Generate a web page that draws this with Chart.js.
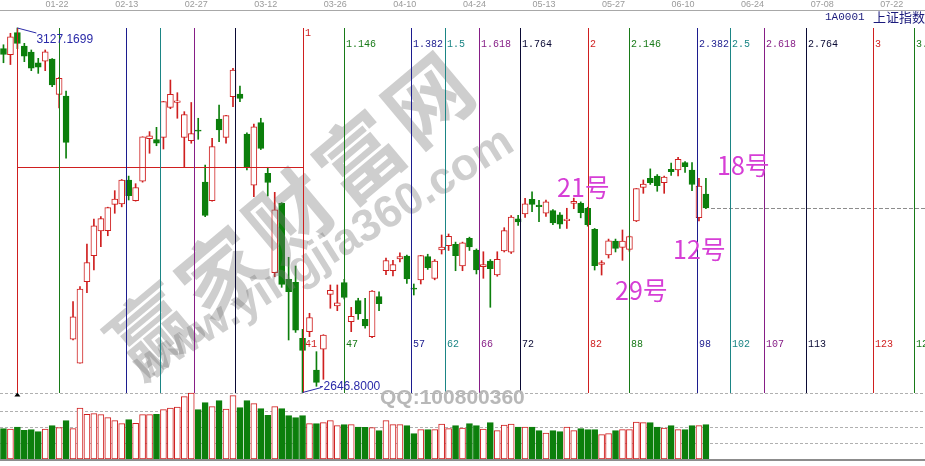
<!DOCTYPE html>
<html>
<head>
<meta charset="utf-8">
<script src="https://cdn.jsdelivr.net/npm/chart.js@4/dist/chart.umd.min.js"></script>
<style>
    html, body { margin: 0; padding: 0; background: #fff; }
    #wrap { width: 925px; height: 466px; }
    canvas { display: block; }
</style>
</head>
<body>
<div id="wrap"><canvas id="kline" width="925" height="466"></canvas></div>
<script>
// Торговые дни (последние 31 - будущие ячейки графика)
const dates = [
    '01-10','01-13','01-14','01-15','01-16','01-17','01-20','01-21','01-22','01-23',
    '02-03','02-04','02-05','02-06','02-07','02-10','02-11','02-12','02-13','02-14',
    '02-17','02-18','02-19','02-20','02-21','02-24','02-25','02-26','02-27','02-28',
    '03-02','03-03','03-04','03-05','03-06','03-09','03-10','03-11','03-12','03-13',
    '03-16','03-17','03-18','03-19','03-20','03-23','03-24','03-25','03-26','03-27',
    '03-30','03-31','04-01','04-02','04-03','04-07','04-08','04-09','04-10','04-13',
    '04-14','04-15','04-16','04-17','04-20','04-21','04-22','04-23','04-24','04-27',
    '04-28','04-29','04-30','05-06','05-07','05-08','05-11','05-12','05-13','05-14',
    '05-15','05-18','05-19','05-20','05-21','05-22','05-25','05-26','05-27','05-28',
    '05-29','06-01','06-02','06-03','06-04','06-05','06-08','06-09','06-10','06-11',
    '06-12','06-15','06-16','06-17','06-18','06-19','06-22','06-23','06-24','06-25',
    '06-26','06-29','06-30','07-01','07-02','07-03','07-06','07-07','07-08','07-09',
    '07-10','07-13','07-14','07-15','07-16','07-17','07-20','07-21','07-22','07-23',
    '07-24','07-27','07-28'
];

const opens = [
    3100.0, 3092.0, 3121.0, 3103.4, 3095.5, 3081.4, 3083.3, 3086.3, 3039.8, 3037.6,
    2717.0, 2685.3, 2792.9, 2827.1, 2859.6, 2860.1, 2894.8, 2895.2, 2926.9, 2899.6,
    2925.2, 2981.3, 2980.1, 2983.1, 3022.6, 3029.0, 2983.1, 2978.7, 2992.5, 2924.2,
    2899.6, 3007.2, 2983.1, 3036.7, 3040.2, 2987.5, 2919.9, 3002.4, 2935.6, 2804.7,
    2896.1, 2795.9, 2792.0, 2718.2, 2727.0, 2676.5, 2703.8, 2776.2, 2760.8, 2791.5,
    2740.1, 2767.8, 2743.2, 2720.4, 2773.1, 2807.3, 2807.3, 2823.0, 2826.7, 2784.0,
    2795.3, 2825.8, 2797.3, 2834.6, 2840.3, 2842.1, 2813.6, 2850.0, 2834.6, 2812.6,
    2820.1, 2801.6, 2833.3, 2831.6, 2875.8, 2882.1, 2901.4, 2893.9, 2883.0, 2886.4,
    2880.9, 2873.2, 2896.0, 2896.1, 2889.6, 2861.9, 2815.5, 2828.0, 2846.4, 2838.1,
    2835.5, 2872.8, 2917.2, 2929.1, 2932.1, 2923.3, 2941.0, 2940.0, 2949.7, 2940.0,
    2877.2, 2908.4
];
const highs = [
    3105.1, 3120.2, 3127.1699, 3107.0, 3098.2, 3087.2, 3098.2, 3087.0, 3062.0, 3044.2,
    2766.5, 2786.3, 2842.5, 2875.5, 2878.5, 2891.0, 2912.8, 2927.5, 2932.0, 2922.0,
    2983.8, 2990.6, 2996.3, 3030.5, 3058.6, 3041.9, 3016.9, 3029.0, 3008.2, 2946.6,
    2981.8, 3025.7, 3012.0, 3074.0, 3050.7, 2989.0, 3000.7, 3008.2, 2943.6, 2910.6,
    2897.0, 2825.0, 2813.5, 2730.0, 2751.2, 2700.6, 2723.0, 2788.5, 2788.5, 2796.0,
    2759.0, 2771.0, 2771.0, 2781.0, 2779.6, 2824.0, 2821.0, 2831.0, 2828.0, 2789.8,
    2827.5, 2829.0, 2822.0, 2854.4, 2855.7, 2845.0, 2845.0, 2851.5, 2836.0, 2832.3,
    2822.0, 2832.3, 2864.0, 2880.0, 2880.3, 2902.7, 2911.4, 2900.0, 2900.4, 2888.0,
    2884.0, 2889.6, 2903.0, 2898.0, 2891.0, 2863.0, 2820.5, 2849.0, 2849.0, 2861.0,
    2853.0, 2915.6, 2926.9, 2941.5, 2934.0, 2932.0, 2949.0, 2956.8, 2951.0, 2949.7,
    2929.1, 2929.0
];
const lows = [
    3081.4, 3079.0, 3100.0, 3082.8, 3070.9, 3067.4, 3070.9, 3050.0, 3022.0, 2955.5,
    2716.0, 2685.3, 2778.4, 2808.2, 2839.0, 2853.4, 2883.0, 2891.5, 2900.5, 2899.0,
    2924.0, 2962.1, 2972.0, 2967.7, 3020.8, 3008.2, 2943.6, 2975.3, 2980.5, 2878.5,
    2899.0, 2977.4, 2975.3, 3023.5, 3030.0, 2940.0, 2904.9, 2967.0, 2905.8, 2799.4,
    2785.4, 2716.0, 2726.0, 2646.8, 2720.4, 2655.0, 2664.2, 2757.8, 2754.6, 2770.0,
    2727.0, 2743.2, 2731.6, 2719.0, 2754.6, 2802.0, 2800.6, 2819.0, 2790.7, 2775.3,
    2789.8, 2809.0, 2795.3, 2829.3, 2834.0, 2807.3, 2807.3, 2834.0, 2803.0, 2797.3,
    2759.1, 2800.0, 2832.0, 2830.0, 2867.0, 2877.7, 2885.1, 2872.0, 2879.0, 2868.0,
    2863.0, 2863.0, 2889.0, 2877.0, 2866.0, 2808.2, 2801.6, 2824.0, 2832.0, 2821.0,
    2833.0, 2872.0, 2909.3, 2921.0, 2912.0, 2909.3, 2933.0, 2932.1, 2936.8, 2912.8,
    2872.8, 2889.0
];
const closes = [
    3092.3, 3115.6, 3106.8, 3090.0, 3074.1, 3075.5, 3095.8, 3052.1, 3060.8, 2976.5,
    2746.6, 2783.0, 2818.1, 2866.5, 2876.0, 2890.5, 2901.7, 2926.9, 2906.1, 2917.0,
    2983.6, 2985.0, 2975.4, 3030.2, 3039.7, 3031.2, 3013.1, 2987.9, 2991.3, 2880.3,
    2970.9, 2992.9, 3011.7, 3071.7, 3034.5, 2943.3, 2996.8, 2968.5, 2923.5, 2887.4,
    2789.3, 2779.6, 2728.8, 2702.1, 2745.6, 2660.2, 2722.4, 2781.6, 2764.9, 2772.2,
    2747.2, 2750.3, 2734.5, 2780.6, 2764.0, 2820.8, 2815.4, 2825.9, 2796.6, 2783.1,
    2827.3, 2811.2, 2819.9, 2838.5, 2852.6, 2827.0, 2844.0, 2838.5, 2808.5, 2815.5,
    2810.0, 2822.4, 2860.1, 2878.1, 2871.5, 2895.3, 2894.8, 2891.6, 2898.1, 2870.3,
    2868.5, 2875.4, 2898.6, 2883.7, 2867.9, 2813.8, 2818.0, 2846.6, 2836.8, 2846.2,
    2852.4, 2915.4, 2921.4, 2923.4, 2919.3, 2930.8, 2937.8, 2954.0, 2944.4, 2920.9,
    2919.0, 2890.0
];
const volume = [
    30.3, 30.0, 32.0, 28.7, 29.3, 27.3, 30.0, 33.3, 31.3, 38.3,
    30.3, 51.0, 44.7, 45.3, 44.3, 41.3, 38.3, 35.3, 39.3, 35.7,
    44.3, 44.3, 44.7, 49.3, 51.0, 52.0, 62.3, 66.0, 49.3, 56.3,
    52.3, 58.3, 50.0, 63.3, 51.3, 58.3, 55.3, 50.3, 43.7, 52.3,
    50.3, 43.3, 41.3, 43.3, 35.3, 35.3, 36.3, 38.3, 33.3, 34.3,
    34.3, 32.0, 31.7, 31.3, 28.3, 38.3, 34.3, 34.3, 33.3, 25.3,
    29.3, 29.3, 29.3, 35.0, 30.3, 33.3, 31.0, 35.3, 33.3, 30.0,
    36.3, 28.3, 34.0, 35.0, 32.0, 32.0, 32.0, 28.3, 26.0, 28.3,
    27.3, 32.0, 28.3, 30.3, 29.3, 29.3, 24.3, 25.3, 28.3, 29.3,
    29.3, 37.0, 36.3, 36.3, 32.0, 31.0, 33.3, 29.3, 29.3, 33.3,
    33.3, 34.3
];
const volumeGrid = [16, 32, 48, 66];

// Временные зоны Фибоначчи от максимума к минимуму
const fibRatios = [0, 0.146, 0.382, 0.5, 0.618, 0.764, 1, 1.146, 1.382, 1.5, 1.618, 1.764, 2, 2.146, 2.382, 2.5, 2.618, 2.764, 3, 3.146];
const fibTopLabels = ['', '', '', '', '', '', '1', '1.146', '1.382', '1.5', '1.618', '1.764', '2', '2.146', '2.382', '2.5', '2.618', '2.764', '3', '3.146'];
const fibCountLabels = ['', '', '', '', '', '', '41', '47', '57', '62', '66', '72', '82', '88', '98', '102', '107', '113', '123', '129'];
const retraceLevel = 0.382;
const notes = ['21号', '18号', '12号', '29号'];

const UP = '#cf1f1f';
const DOWN = '#0c7f0c';
const FIB_COLORS = [UP, '#187a18', '#1c1c8e', '#1b8585', '#861e86', '#0a0a34'];

document.addEventListener('DOMContentLoaded', function() {
    const hiIdx = highs.indexOf(Math.max(...highs));
    const loIdx = lows.indexOf(Math.min(...lows));
    const hi = highs[hiIdx];
    const lo = lows[loIdx];
    const span = loIdx - hiIdx;

    // Положение панели цены
    const TOP = 10, BOTTOM = 459, HI_Y = 28, LO_Y = 392.5;
    const k = (LO_Y - HI_Y) / (hi - lo);
    const priceMax = hi + (HI_Y - TOP) / k;
    const priceMin = lo - (BOTTOM - LO_Y) / k;

    const isUp = opens.map((o, i) => closes[i] >= o);
    const lineColors = isUp.map(u => u ? UP : DOWN);
    const fills = isUp.map(u => u ? '#ffffff' : DOWN);

    const panelLines = {
        id: 'panelLines',
        beforeDatasetsDraw(chart) {
            const { ctx, scales: { yv } } = chart;
            ctx.save();
            ctx.strokeStyle = '#b0b0b0';
            ctx.lineWidth = 1;
            ctx.setLineDash([3, 2]);
            volumeGrid.forEach(v => {
                const py = Math.round(yv.getPixelForValue(v)) + 0.5;
                ctx.beginPath();
                ctx.moveTo(0, py);
                ctx.lineTo(925, py);
                ctx.stroke();
            });
            ctx.setLineDash([]);
            ctx.strokeStyle = '#8c8c8c';
            ctx.lineWidth = 2;
            const by = yv.getPixelForValue(0) + 1;
            ctx.beginPath();
            ctx.moveTo(0, by);
            ctx.lineTo(925, by);
            ctx.stroke();
            ctx.restore();
        }
    };

    const overlay = {
        id: 'overlay',
        afterDatasetsDraw(chart) {
            const { ctx, scales: { x, y } } = chart;
            const px = v => Math.round(x.getPixelForValue(v));
            const yHi = y.getPixelForValue(hi);
            const yLo = y.getPixelForValue(lo);
            ctx.save();

            // Водяной знак
            ctx.fillStyle = 'rgba(120,120,120,0.36)';
            ctx.textAlign = 'center';
            ctx.textBaseline = 'middle';
            ctx.font = 'bold 84px "Noto Sans CJK SC"';
            const ang = -40 * Math.PI / 180;
            const chars = '赢家财富网';
            for (let i = 0; i < chars.length; i++) {
                const d = (i - 2) * 90;
                ctx.save();
                ctx.translate(290 + d * Math.cos(ang), 215 + d * Math.sin(ang));
                ctx.rotate(ang);
                ctx.fillText(chars[i], 0, 0);
                ctx.restore();
            }
            ctx.save();
            ctx.translate(324, 255);
            ctx.rotate(-32 * Math.PI / 180);
            ctx.font = 'bold 45px "Liberation Sans"';
            ctx.fillText('www.yingjia360.com', 0, 0);
            ctx.restore();

            // Последняя цена закрытия
            const last = closes.length - 1;
            const cy = Math.round(y.getPixelForValue(closes[last])) + 0.5;
            ctx.strokeStyle = '#8c8c8c';
            ctx.lineWidth = 1;
            ctx.setLineDash([4, 2]);
            ctx.beginPath();
            ctx.moveTo(px(last) + 5, cy);
            ctx.lineTo(925, cy);
            ctx.stroke();
            ctx.setLineDash([]);

            // Уровень 0.382
            const ry = Math.round(y.getPixelForValue(hi - retraceLevel * (hi - lo)));
            ctx.fillStyle = UP;
            ctx.fillRect(px(hiIdx), ry, px(loIdx) - px(hiIdx), 1);

            // Вертикальные линии
            ctx.textAlign = 'left';
            ctx.font = '10px "Liberation Mono"';
            const yTop = Math.round(yHi);
            const yBot = Math.round(yLo) + 1;
            fibRatios.forEach((r, i) => {
                const lx = px(hiIdx + r * span);
                const col = FIB_COLORS[i % FIB_COLORS.length];
                ctx.fillStyle = col;
                ctx.fillRect(lx, yTop, 1, yBot - yTop);
                if (fibTopLabels[i]) ctx.fillText(fibTopLabels[i], lx + 2, r === 1 ? 33 : 44);
                if (fibCountLabels[i]) ctx.fillText(fibCountLabels[i], lx + 2, 344);
            });

            // Подписи максимума и минимума
            const hx = x.getPixelForValue(hiIdx);
            const lx0 = x.getPixelForValue(loIdx);
            ctx.strokeStyle = '#2a2aa8';
            ctx.lineWidth = 1;
            ctx.beginPath();
            ctx.moveTo(hx, yHi);
            ctx.lineTo(hx + 19, yHi + 5);
            ctx.stroke();
            ctx.beginPath();
            ctx.moveTo(lx0, yLo);
            ctx.lineTo(lx0 + 19, yLo - 5);
            ctx.stroke();
            ctx.fillStyle = '#2a2aa8';
            ctx.font = '12px "Liberation Sans"';
            ctx.fillText(hi.toFixed(4), hx + 19, yHi + 12);
            ctx.fillText('-' + lo.toFixed(4), lx0 + 17, yLo - 5.5);

            // Маркер под максимумом
            ctx.fillStyle = '#000';
            ctx.beginPath();
            ctx.moveTo(hx, yLo);
            ctx.lineTo(hx - 3, yLo + 4);
            ctx.lineTo(hx + 3, yLo + 4);
            ctx.closePath();
            ctx.fill();
            ctx.beginPath();

            // Заметки
            const notePos = [[557, 187], [717, 165], [673, 249], [615, 290]];
            ctx.fillStyle = '#d63ed6';
            ctx.font = '25px "Noto Sans CJK SC"';
            notes.forEach((t, i) => ctx.fillText(t, notePos[i][0], notePos[i][1]));

            // Заголовок
            ctx.fillStyle = '#1a1a7c';
            ctx.font = '11px "Liberation Mono"';
            ctx.fillText('1A0001', 825, 17.5);
            ctx.font = '13px "Noto Sans CJK SC"';
            ctx.fillText('上证指数', 873, 17.5);

            // QQ
            ctx.fillStyle = '#b8b8b8';
            ctx.font = 'bold 21px "Liberation Sans"';
            ctx.fillText('QQ:100800360', 380, 398);

            ctx.restore();
        }
    };

    new Chart(document.getElementById('kline'), {
        type: 'bar',
        data: {
            labels: dates,
            datasets: [
                {
                    label: 'wick',
                    data: lows.map((l, i) => [l, highs[i]]),
                    yAxisID: 'y',
                    backgroundColor: lineColors,
                    barThickness: 1,
                    grouped: false,
                    order: 3
                },
                {
                    label: 'body',
                    data: opens.map((o, i) => [o, closes[i]]),
                    yAxisID: 'y',
                    backgroundColor: fills,
                    borderColor: lineColors,
                    borderWidth: 1,
                    borderSkipped: false,
                    minBarLength: 1,
                    barThickness: 6,
                    grouped: false,
                    order: 2
                },
                {
                    label: 'volume',
                    data: volume,
                    yAxisID: 'yv',
                    backgroundColor: fills,
                    borderColor: lineColors,
                    borderWidth: 1,
                    borderSkipped: false,
                    barThickness: 6,
                    grouped: false,
                    order: 2
                }
            ]
        },
        options: {
            responsive: false,
            animation: false,
            devicePixelRatio: 1,
            layout: { padding: { left: -1, right: -4, top: 0, bottom: 466 - BOTTOM } },
            plugins: {
                legend: { display: false },
                tooltip: { enabled: false }
            },
            scales: {
                x: {
                    position: 'top',
                    offset: true,
                    grid: { display: false, drawTicks: false },
                    border: { display: true, color: '#a8a8a8' },
                    ticks: {
                        autoSkip: false,
                        maxRotation: 0,
                        padding: 0,
                        labelOffset: -2,
                        color: '#9a9a9a',
                        font: { size: 9, family: "'Liberation Sans'" },
                        callback: function(v, i) {
                            return i % 10 === 8 ? dates[i] : '';
                        }
                    },
                    afterFit: function(s) { s.height = TOP; }
                },
                y: { type: 'linear', display: false, min: priceMin, max: priceMax },
                yv: { type: 'linear', display: false, position: 'right', min: 0, max: BOTTOM - TOP }
            }
        },
        plugins: [panelLines, overlay]
    });
});
</script>
</body>
</html>
